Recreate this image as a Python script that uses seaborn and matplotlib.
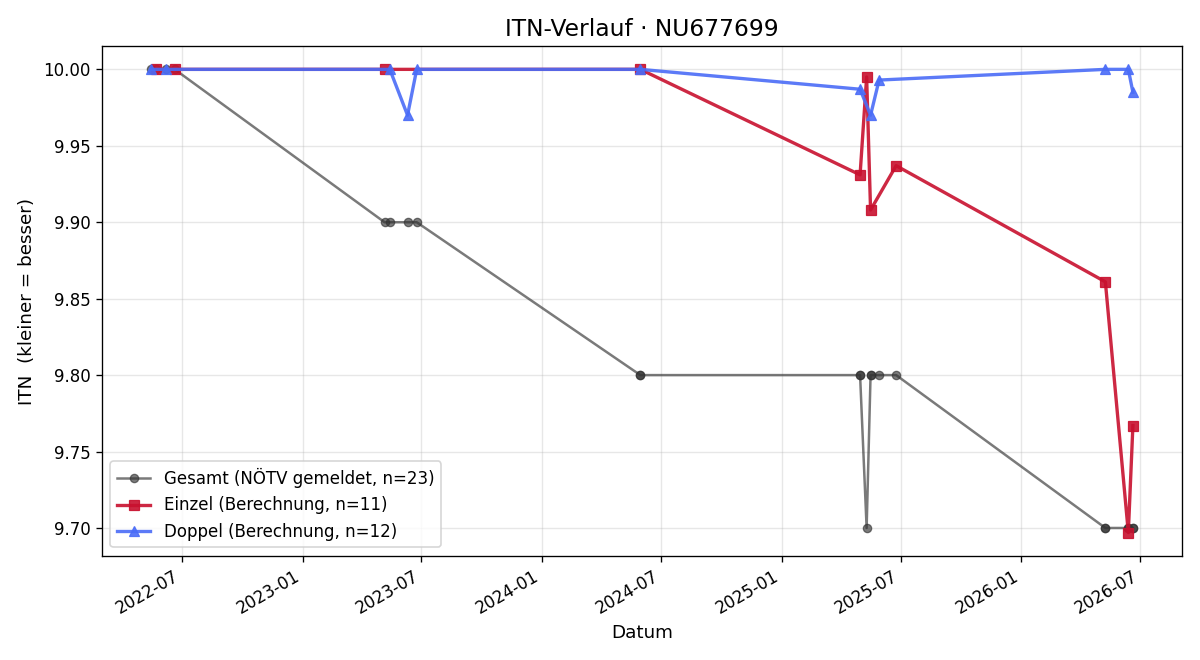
import pandas as pd
import matplotlib
matplotlib.use("Agg")
import matplotlib.pyplot as plt
import matplotlib.dates as mdates
import seaborn as sns

# Einzel (Berechnung)
einzel_dates = ["2022-05-22", "2022-06-20", "2023-05-06", "2024-05-30", "2025-04-30",
                "2025-05-10", "2025-05-16", "2025-06-24", "2026-05-09", "2026-06-13",
                "2026-06-20"]
einzel_itn = [10.00, 10.00, 10.00, 10.00, 9.931, 9.995, 9.908, 9.937, 9.861, 9.697, 9.767]

# Doppel (Berechnung)
doppel_dates = ["2022-05-15", "2022-06-07", "2023-05-14", "2023-06-10", "2023-06-24",
                "2024-05-30", "2025-04-30", "2025-05-16", "2025-05-29", "2026-05-09",
                "2026-06-13", "2026-06-20"]
doppel_itn = [10.00, 10.00, 10.00, 9.970, 10.00, 10.00, 9.987, 9.970, 9.993, 10.00, 10.00, 9.985]

# Gesamt (NÖTV gemeldet)
gesamt_dates = ["2022-05-15", "2022-05-22", "2022-06-07", "2022-06-20", "2023-05-06",
                "2023-05-14", "2023-06-10", "2023-06-24", "2024-05-30", "2024-05-30",
                "2025-04-30", "2025-04-30", "2025-05-10", "2025-05-16", "2025-05-16",
                "2025-05-29", "2025-06-24", "2026-05-09", "2026-05-09", "2026-06-13",
                "2026-06-13", "2026-06-20", "2026-06-20"]
gesamt_itn = [10.0, 10.0, 10.0, 10.0, 9.9, 9.9, 9.9, 9.9, 9.8, 9.8,
              9.8, 9.8, 9.7, 9.8, 9.8, 9.8, 9.8, 9.7, 9.7, 9.7,
              9.7, 9.7, 9.7]

fig, ax = plt.subplots(figsize=(10, 5.5), dpi=120)

sns.lineplot(x=pd.to_datetime(gesamt_dates), y=gesamt_itn, estimator=None, sort=False,
             color="#333333", alpha=0.65, lw=1.5, marker="o", markersize=5,
             markeredgecolor="#333333", label=f"Gesamt (NÖTV gemeldet, n={len(gesamt_itn)})", ax=ax)
sns.lineplot(x=pd.to_datetime(einzel_dates), y=einzel_itn, estimator=None, sort=False,
             color="#c8102e", alpha=0.9, lw=2, marker="s", markersize=6,
             markeredgecolor="#c8102e", label=f"Einzel (Berechnung, n={len(einzel_itn)})", ax=ax)
sns.lineplot(x=pd.to_datetime(doppel_dates), y=doppel_itn, estimator=None, sort=False,
             color="#4a6cf7", alpha=0.9, lw=2, marker="^", markersize=6,
             markeredgecolor="#4a6cf7", label=f"Doppel (Berechnung, n={len(doppel_itn)})", ax=ax)

ax.xaxis.set_major_locator(mdates.MonthLocator(bymonth=[1, 7]))
ax.xaxis.set_major_formatter(mdates.DateFormatter("%Y-%m"))
ax.grid(True, alpha=0.3)
ax.set_title("ITN-Verlauf · NU677699", fontsize=14)
ax.set_xlabel("Datum", fontsize=11)
ax.set_ylabel("ITN  (kleiner = besser)", fontsize=11)
ax.legend(loc="lower left", fontsize=10)
fig.autofmt_xdate()
fig.subplots_adjust(left=0.085, right=0.985, top=0.93, bottom=0.158)
fig.savefig("out.png", dpi=120)
